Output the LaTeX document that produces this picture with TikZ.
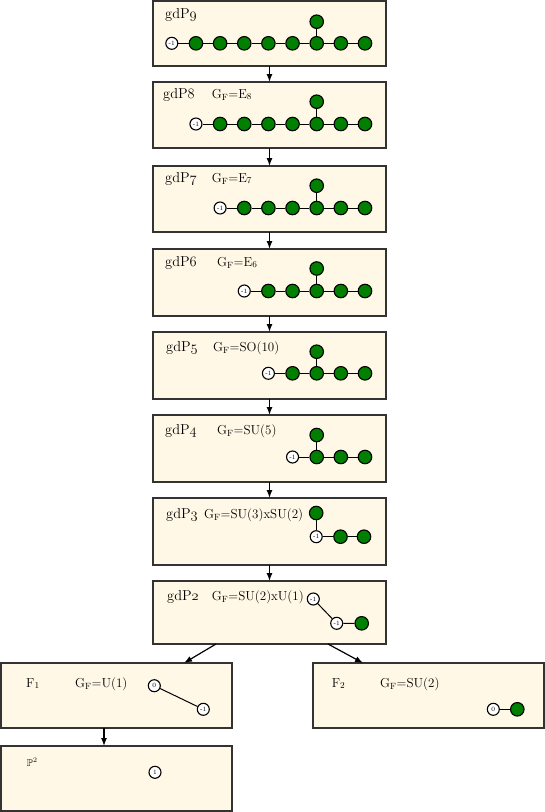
\documentclass[tikz,border=0pt]{standalone}
\usepackage{amssymb}
\usetikzlibrary{arrows.meta,calc}
\definecolor{cream}{HTML}{FFF8E6}
\definecolor{dgreen}{HTML}{007F00}
\newcommand{\osn}[1]{$\mathnormal{#1}$}
\begin{document}
\begin{tikzpicture}[x=1pt,y=-1pt,
  box/.style={draw=black!80, line width=1.4pt, fill=cream, inner sep=0, outer sep=0, minimum width=233pt, minimum height=66pt},
  gn/.style={circle, draw=black, line width=1.1pt, fill=dgreen, minimum size=13.5pt, inner sep=0},
  wn/.style={circle, draw=black, line width=1.1pt, fill=white, minimum size=12pt, inner sep=0, font=\fontsize{6.5}{7}\selectfont},
  ln/.style={line width=1pt},
  arr/.style={line width=1.2pt, -{Latex[length=8pt,width=6pt]}},
  ttl/.style={anchor=base west, inner sep=0, font=\fontsize{13}{15}\selectfont},
  big/.style={ttl, font=\fontsize{14.4}{16}\selectfont}]
\useasboundingbox (0,0) rectangle (545,812);
% boxes
\node[box, minimum height=65pt] (p9) at (269.5,33.5) {};
\node[box] (p8) at (269.5,115) {};
\node[box] (p7) at (269.5,199) {};
\node[box, minimum height=67pt] (p6) at (269.5,282.5) {};
\node[box, minimum height=67pt] (p5) at (269.5,365.5) {};
\node[box, minimum height=67pt] (p4) at (269.5,448.5) {};
\node[box, minimum height=67pt] (p3) at (269.5,531.5) {};
\node[box, minimum height=63pt] (p2) at (269.5,612.5) {};
\node[box, minimum width=231pt, minimum height=65pt] (fa) at (116.5,695.5) {};
\node[box, minimum width=231pt, minimum height=65pt] (fb) at (428.5,695.5) {};
\node[box, minimum width=231pt, minimum height=65pt] (pp) at (116.5,778.5) {};
% arrows
\draw[arr] (p9.south) -- (p8.north);
\draw[arr] (p8.south) -- (p7.north);
\draw[arr] (p7.south) -- (p6.north);
\draw[arr] (p6.south) -- (p5.north);
\draw[arr] (p5.south) -- (p4.north);
\draw[arr] (p4.south) -- (p3.north);
\draw[arr] (p3.south) -- (p2.north);
\draw[arr] ($(p2.south west)+(63,0)$) -- ($(fa.north)+(67.5,0)$);
\draw[arr] ($(p2.south west)+(175,0)$) -- ($(fb.north)+(-65.5,0)$);
\draw[arr] ($(fa.south)+(-12.5,0)$) -- ($(pp.north)+(-12.5,0)$);
% titles
\node[big] (t9) at (165,18) {gdP\osn{9}};
\node[big] (t8) at (163,98) {gdP\osn{8}};
\node[ttl] (g8) at (211.7,98) {G$_{\mathrm F}$=E$_8$};
\node[big] (t7) at (165,182) {gdP\osn{7}};
\node[ttl] (g7) at (211.7,182) {G$_{\mathrm F}$=E$_7$};
\node[big] (t6) at (165,266) {gdP\osn{6}};
\node[ttl] (g6) at (217,266) {G$_{\mathrm F}$=E$_6$};
\node[big] (t5) at (166,351) {gdP\osn{5}};
\node[ttl] (g5) at (213,351) {G$_{\mathrm F}$=SO(10)};
\node[big] (t4) at (165,434) {gdP\osn{4}};
\node[ttl] (g4) at (217,434) {G$_{\mathrm F}$=SU(5)};
\node[big] (t3) at (166,518) {gdP\osn{3}};
\node[ttl] (g3) at (204,518) {G$_{\mathrm F}$=SU(3)xSU(2)};
\node[big] (t2) at (167,600) {gdP\osn{2}};
\node[ttl] (g2) at (211.7,600) {G$_{\mathrm F}$=SU(2)xU(1)};
\node[ttl] (tf1) at (26,687) {F$_1$};
\node[ttl] (gf1) at (75,687) {G$_{\mathrm F}$=U(1)};
\node[ttl] (tf2) at (331.7,687) {F$_2$};
\node[ttl] (gf2) at (380,687) {G$_{\mathrm F}$=SU(2)};
\node[ttl, font=\fontsize{10}{11}\selectfont] (tp) at (26.7,766) {$\mathbb{P}^2$};
% gdP9 : E9
\node[wn] (a0) at (171.8,43.3) {-1};
\foreach \i/\x in {1/195.95,2/220.1,3/244.25,4/268.4,5/292.55,6/316.7,7/340.85,8/365}
  \node[gn] (a\i) at (\x,43.3) {};
\node[gn] (at) at (316.7,21.7) {};
\draw[ln] (a0)--(a1)--(a2)--(a3)--(a4)--(a5)--(a6)--(a7)--(a8);
\draw[ln] (a6)--(at);
% gdP8 : E8
\node[wn] (b0) at (195.95,124) {-1};
\foreach \i/\x in {1/220.1,2/244.25,3/268.4,4/292.55,5/316.7,6/340.85,7/365}
  \node[gn] (b\i) at (\x,124) {};
\node[gn] (bt) at (316.7,101.7) {};
\draw[ln] (b0)--(b1)--(b2)--(b3)--(b4)--(b5)--(b6)--(b7);
\draw[ln] (b5)--(bt);
% gdP7 : E7
\node[wn] (c0) at (220.1,208) {-1};
\foreach \i/\x in {1/244.25,2/268.4,3/292.55,4/316.7,5/340.85,6/365}
  \node[gn] (c\i) at (\x,208) {};
\node[gn] (ct) at (316.7,185.7) {};
\draw[ln] (c0)--(c1)--(c2)--(c3)--(c4)--(c5)--(c6);
\draw[ln] (c4)--(ct);
% gdP6 : E6
\node[wn] (d0) at (244.25,291) {-1};
\foreach \i/\x in {1/268.4,2/292.55,3/316.7,4/340.85,5/365}
  \node[gn] (d\i) at (\x,291) {};
\node[gn] (dt) at (316.7,268.5) {};
\draw[ln] (d0)--(d1)--(d2)--(d3)--(d4)--(d5);
\draw[ln] (d3)--(dt);
% gdP5 : SO(10)
\node[wn] (e0) at (268.4,373.3) {-1};
\foreach \i/\x in {1/292.55,2/316.7,3/340.85,4/365}
  \node[gn] (e\i) at (\x,373.3) {};
\node[gn] (et) at (316.7,351.7) {};
\draw[ln] (e0)--(e1)--(e2)--(e3)--(e4);
\draw[ln] (e2)--(et);
% gdP4 : SU(5)
\node[wn] (f0) at (292.55,457) {-1};
\foreach \i/\x in {1/316.7,2/340.85,3/365}
  \node[gn] (f\i) at (\x,457) {};
\node[gn] (ft) at (316.7,435) {};
\draw[ln] (f0)--(f1)--(f2)--(f3);
\draw[ln] (f1)--(ft);
% gdP3
\node[wn] (g0) at (316.2,536.7) {-1};
\node[gn] (g1) at (340.5,536.7) {};
\node[gn] (g2) at (364,536.7) {};
\node[gn] (gt) at (316.2,513) {};
\draw[ln] (g0)--(g1)--(g2);
\draw[ln] (g0)--(gt);
% gdP2
\node[wn] (h0) at (313.3,599) {-1};
\node[wn] (h1) at (336.7,623.3) {-1};
\node[gn] (h2) at (361.7,623.3) {};
\draw[ln] (h0)--(h1)--(h2);
% F1
\node[wn] (i0) at (154.3,685.7) {0};
\node[wn] (i1) at (203.3,709.3) {-1};
\draw[ln] (i0)--(i1);
% F2
\node[wn] (j0) at (493.3,709.3) {0};
\node[gn] (j1) at (517.3,709.3) {};
\draw[ln] (j0)--(j1);
% P2
\node[wn] (k0) at (155,772.3) {1};
\end{tikzpicture}
\end{document}
